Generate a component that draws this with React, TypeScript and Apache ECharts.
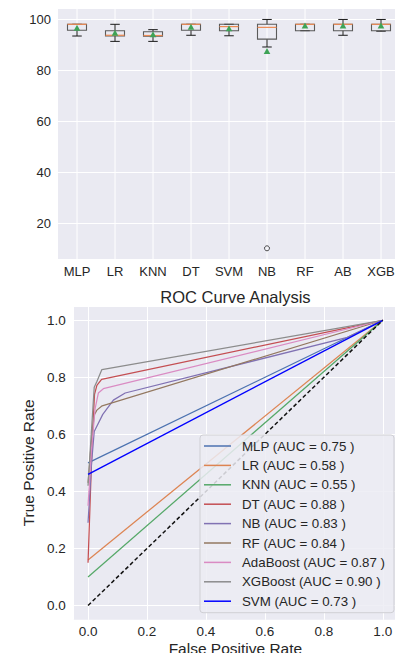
import React, { useEffect, useRef } from 'react';
import * as echarts from 'echarts';

// ---------- Box plot data (accuracy %, per model) ----------
const boxCategories = ['MLP', 'LR', 'KNN', 'DT', 'SVM', 'NB', 'RF', 'AB', 'XGB'];
const boxLow = [93.5, 91.4, 91.4, 93.8, 93.6, 89.2, 95.6, 93.8, 95.4];
const boxQ1 = [95.75, 93.5, 93.4, 95.75, 95.6, 92.3, 95.6, 95.6, 95.6];
const boxMedian = [98.1, 93.8, 93.7, 98.1, 97.2, 96.9, 98.1, 98.1, 98.1];
const boxQ3 = [98.1, 95.6, 95.2, 98.1, 98.1, 98.1, 98.1, 98.1, 98.1];
const boxHigh = [98.1, 98.1, 96.0, 98.1, 98.1, 100, 98.1, 100, 100];
const boxMean = [96.5, 94.6, 94.0, 96.9, 96.3, 87.35, 97.4, 97.4, 97.4];
const outlierCats = ['NB'];
const outlierValues = [10.2];
const boxYTicks = [20, 40, 60, 80, 100];

// ---------- ROC curve data ----------
const rocModels = ['MLP', 'LR', 'KNN', 'DT', 'NB', 'RF', 'AdaBoost', 'XGBoost', 'SVM'];
const rocAuc = ['0.75', '0.58', '0.55', '0.88', '0.83', '0.84', '0.87', '0.90', '0.73'];
const rocColors = ['#4c72b0', '#dd8452', '#55a868', '#c44e52', '#8172b3', '#937860', '#da8bc3', '#8c8c8c', '#0000ff'];

const fprMLP = [0, 1];
const tprMLP = [0.5, 1];
const fprLR = [0, 1];
const tprLR = [0.16, 1];
const fprKNN = [0, 1];
const tprKNN = [0.1, 1];
const fprDT = [0, 0.015, 0.022, 0.03, 0.046, 1];
const tprDT = [0.15, 0.6, 0.74, 0.772, 0.793, 1];
const fprNB = [0, 0.012, 0.021, 0.05, 0.086, 0.126, 0.88, 1];
const tprNB = [0.29, 0.5, 0.61, 0.67, 0.72, 0.745, 0.94, 1];
const fprRF = [0, 0.01, 0.021, 0.03, 0.048, 1];
const tprRF = [0.43, 0.56, 0.668, 0.685, 0.7, 1];
const fprAda = [0, 0.012, 0.024, 0.035, 0.052, 1];
const tprAda = [0.35, 0.55, 0.69, 0.745, 0.76, 1];
const fprXGB = [0, 0.012, 0.021, 0.03, 0.047, 1];
const tprXGB = [0.42, 0.62, 0.765, 0.785, 0.827, 1];
const fprSVM = [0, 1];
const tprSVM = [0.46, 1];
const diagX = [0, 1];
const diagY = [0, 1];

const rocFpr = [fprMLP, fprLR, fprKNN, fprDT, fprNB, fprRF, fprAda, fprXGB, fprSVM];
const rocTpr = [tprMLP, tprLR, tprKNN, tprDT, tprNB, tprRF, tprAda, tprXGB, tprSVM];

const FONT = '"Liberation Sans", Arial, sans-serif';
const TXT = '#262626';
const BG = '#EAEAF2';

export default function App() {
  const ref = useRef<HTMLDivElement>(null);

  useEffect(() => {
    if (!ref.current) return;
    const chart = echarts.init(ref.current, undefined, { renderer: 'svg' });

    const boxData = boxCategories.map((_, i) => [
      i, boxLow[i], boxQ1[i], boxMedian[i], boxQ3[i], boxHigh[i], boxMean[i],
    ]);

    const rocNames = rocModels.map((m, i) => `${m} (AUC = ${rocAuc[i]} )`);

    const rocSeries = rocModels.map((_, i) => ({
      type: 'line',
      name: rocNames[i],
      xAxisIndex: 1,
      yAxisIndex: 1,
      data: rocFpr[i].map((x, j) => [x, rocTpr[i][j]]),
      symbol: 'none',
      showSymbol: false,
      color: rocColors[i],
      itemStyle: { color: rocColors[i] },
      lineStyle: { width: i === 8 ? 1.4 : 1.25, color: rocColors[i] },
      z: 2,
    }));

    const option: any = {
      animation: false,
      textStyle: { fontFamily: FONT },
      grid: [
        { left: 58, top: 8, width: 342, height: 251, show: true, backgroundColor: BG, borderWidth: 0, containLabel: false, outerBoundsMode: 'none' },
        { left: 73.3, top: 306, width: 324.2, height: 313.8, show: true, backgroundColor: BG, borderWidth: 0, containLabel: false, outerBoundsMode: 'none' },
      ],
      xAxis: [
        {
          type: 'category',
          gridIndex: 0,
          data: boxCategories,
          axisLine: { show: false },
          axisTick: { show: false },
          splitLine: { show: false },
          axisLabel: { color: TXT, fontSize: 13, margin: 6, fontFamily: FONT, interval: 0 },
        },
        {
          type: 'value',
          gridIndex: 1,
          min: -0.05,
          max: 1.05,
          minInterval: 0.2,
          maxInterval: 0.2,
          axisLine: { show: false },
          axisTick: { show: false },
          splitLine: { lineStyle: { color: '#ffffff', width: 1 } },
          axisLabel: {
            color: TXT,
            fontSize: 13.5,
            margin: 5,
            fontFamily: FONT,
            formatter: (v: number) =>
              Math.abs(v * 5 - Math.round(v * 5)) < 1e-6 && v > -1e-6 && v < 1 + 1e-6 ? v.toFixed(1) : '',
          },
          name: 'False Positive Rate',
          nameLocation: 'middle',
          nameGap: 21,
          nameTextStyle: { color: TXT, fontSize: 15.5, fontFamily: FONT },
        },
      ],
      yAxis: [
        {
          type: 'value',
          gridIndex: 0,
          min: 6,
          max: 104.5,
          minInterval: 20,
          maxInterval: 20,
          axisLine: { show: false },
          axisTick: { show: false },
          splitLine: { lineStyle: { color: '#ffffff', width: 1 } },
          axisLabel: {
            color: TXT,
            fontSize: 13,
            margin: 7,
            fontFamily: FONT,
            formatter: (v: number) => (boxYTicks.includes(Math.round(v)) && Math.abs(v - Math.round(v)) < 1e-6 ? String(Math.round(v)) : ''),
          },
        },
        {
          type: 'value',
          gridIndex: 1,
          min: -0.05,
          max: 1.05,
          minInterval: 0.2,
          maxInterval: 0.2,
          axisLine: { show: false },
          axisTick: { show: false },
          splitLine: { lineStyle: { color: '#ffffff', width: 1 } },
          axisLabel: {
            color: TXT,
            fontSize: 13.5,
            margin: 7.5,
            fontFamily: FONT,
            formatter: (v: number) =>
              Math.abs(v * 5 - Math.round(v * 5)) < 1e-6 && v > -1e-6 && v < 1 + 1e-6 ? v.toFixed(1) : '',
          },
          name: 'True Positive Rate',
          nameLocation: 'middle',
          nameGap: 27,
          nameTextStyle: { color: TXT, fontSize: 15.5, fontFamily: FONT },
        },
      ],
      legend: {
        data: rocNames,
        orient: 'vertical',
        left: 200,
        top: 435,
        icon: 'path://M0,0H27V1.5H0Z',
        itemWidth: 27,
        itemHeight: 14,
        itemGap: 5.4,
        padding: [4, 9, 4.5, 4],
        backgroundColor: 'rgba(236,236,243,0.85)',
        borderColor: '#cfcfd4',
        borderWidth: 1,
        borderRadius: 3,
        selectedMode: false,
        textStyle: { color: TXT, fontSize: 13.3, lineHeight: 14, fontFamily: FONT, padding: [0, 0, 0, 6] },
      },
      graphic: [
        {
          type: 'text',
          x: 235.4,
          y: 297,
          style: {
            text: 'ROC Curve Analysis',
            align: 'center',
            verticalAlign: 'middle',
            fontSize: 16.5,
            fontFamily: FONT,
            fill: TXT,
          },
        },
      ],
      series: [
        {
          type: 'custom',
          xAxisIndex: 0,
          yAxisIndex: 0,
          data: boxData,
          encode: { x: 0, y: [1, 2, 3, 4, 5, 6] },
          renderItem: (params: any, api: any) => {
            const idx = api.value(0);
            const pLo = api.coord([idx, api.value(1)]);
            const cx = pLo[0];
            const yLo = pLo[1];
            const yQ1 = api.coord([idx, api.value(2)])[1];
            const yMd = api.coord([idx, api.value(3)])[1];
            const yQ3 = api.coord([idx, api.value(4)])[1];
            const yHi = api.coord([idx, api.value(5)])[1];
            const yMn = api.coord([idx, api.value(6)])[1];
            const band = api.size([1, 0])[0];
            const hw = band * 0.25;
            const cw = band * 0.125;
            const cs = params.coordSys;
            const black = '#1a1a1a';
            const boxEdge = '#5a5a5a';
            return {
              type: 'group',
              children: [
                { type: 'line', shape: { x1: cx, y1: cs.y, x2: cx, y2: cs.y + cs.height }, style: { stroke: '#ffffff', lineWidth: 1 } },
                { type: 'line', shape: { x1: cx, y1: yQ1, x2: cx, y2: yLo }, style: { stroke: black, lineWidth: 1 } },
                { type: 'line', shape: { x1: cx, y1: yQ3, x2: cx, y2: yHi }, style: { stroke: black, lineWidth: 1 } },
                { type: 'line', shape: { x1: cx - cw, y1: yLo, x2: cx + cw, y2: yLo }, style: { stroke: black, lineWidth: 1 } },
                { type: 'line', shape: { x1: cx - cw, y1: yHi, x2: cx + cw, y2: yHi }, style: { stroke: black, lineWidth: 1 } },
                { type: 'rect', shape: { x: cx - hw, y: yQ3, width: hw * 2, height: yQ1 - yQ3 }, style: { fill: 'none', stroke: boxEdge, lineWidth: 1.1 } },
                { type: 'line', shape: { x1: cx - hw, y1: yMd, x2: cx + hw, y2: yMd }, style: { stroke: '#ee8a52', lineWidth: 1.2 } },
                { type: 'polygon', shape: { points: [[cx, yMn - 3.6], [cx + 3.3, yMn + 2.4], [cx - 3.3, yMn + 2.4]] }, style: { fill: '#3ea357' } },
              ],
            };
          },
          z: 3,
        },
        {
          type: 'scatter',
          xAxisIndex: 0,
          yAxisIndex: 0,
          data: outlierCats.map((c, i) => [boxCategories.indexOf(c), outlierValues[i]]),
          symbol: 'circle',
          symbolSize: 5,
          itemStyle: { color: 'rgba(0,0,0,0)', borderColor: '#222', borderWidth: 1 },
          z: 3,
        },
        ...rocSeries,
        {
          type: 'line',
          name: 'chance',
          xAxisIndex: 1,
          yAxisIndex: 1,
          data: diagX.map((x, i) => [x, diagY[i]]),
          symbol: 'none',
          showSymbol: false,
          lineStyle: { color: '#111111', width: 1.5, type: [4, 2.5] },
          z: 3,
        },
      ],
    };

    chart.setOption(option);
    return () => chart.dispose();
  }, []);

  return (
    <div
      ref={ref}
      style={{ position: 'fixed', left: 0, top: 0, width: 395, height: 653, background: '#ffffff' }}
    />
  );
}
